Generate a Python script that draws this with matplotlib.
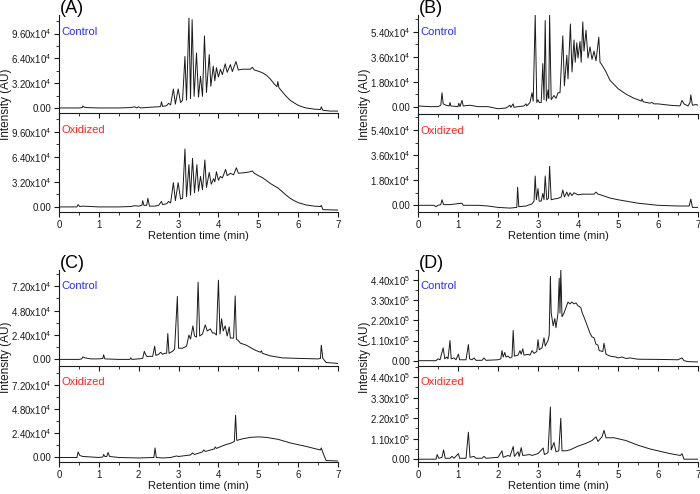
import numpy as np
import matplotlib.pyplot as plt
from matplotlib.ticker import FixedLocator, FuncFormatter, MultipleLocator

# retention time (min), intensity in units of 1e4 (A-C) or 1e5 (D)
a_control = [
    (0, 0.0), (0.5, 0.0), (0.58, 0.05), (0.6, 0.25), (0.63, 0.1), (0.7, 0.05), (1.0, 0.0),
    (1.5, 0.0), (1.8, 0.05), (1.9, 0.15), (1.95, 0.0), (2.0, 0.15), (2.05, 0.0), (2.3, 0.1),
    (2.5, 0.15), (2.55, 0.2), (2.57, 0.8), (2.6, 0.2), (2.7, 0.3), (2.75, 0.6), (2.8, 0.4),
    (2.87, 2.45), (2.92, 0.5), (2.99, 2.45), (3.05, 0.7), (3.1, 1.0), (3.16, 6.65), (3.2, 1.0),
    (3.26, 11.6), (3.3, 1.2), (3.34, 11.4), (3.39, 1.5), (3.45, 7.1), (3.5, 1.4), (3.55, 4.1),
    (3.6, 1.5), (3.65, 9.3), (3.7, 2.0), (3.77, 6.9), (3.81, 2.8), (3.87, 5.4), (3.91, 3.5),
    (3.95, 5.2), (4.0, 4.0), (4.05, 5.0), (4.1, 4.3), (4.17, 5.7), (4.22, 4.6), (4.3, 5.6),
    (4.35, 4.7), (4.44, 6.0), (4.5, 4.9), (4.6, 5.0), (4.7, 5.0), (4.8, 5.0), (4.85, 5.25),
    (4.9, 4.9), (5.0, 4.75), (5.1, 4.55), (5.2, 4.25), (5.3, 3.75), (5.4, 3.1), (5.47, 2.75),
    (5.49, 3.4), (5.52, 2.6), (5.6, 2.1), (5.7, 1.5), (5.8, 1.0), (5.9, 0.65), (6.0, 0.35),
    (6.1, 0.15), (6.2, 0.0), (6.4, -0.15), (6.56, -0.2), (6.58, 0.15), (6.62, -0.3),
    (6.8, -0.4), (7.0, -0.4),
]
a_oxidized = [
    (0, 0.0), (0.45, 0.0), (0.48, 0.3), (0.52, 0.05), (0.6, 0.1), (1.0, 0.0), (1.5, 0.0),
    (1.8, 0.05), (1.9, 0.15), (2.0, 0.1), (2.08, 0.2), (2.1, 0.8), (2.13, 0.2), (2.2, 0.2),
    (2.23, 1.1), (2.27, 0.1), (2.4, 0.1), (2.5, 0.2), (2.57, 0.7), (2.6, 0.3), (2.7, 0.4),
    (2.75, 0.7), (2.8, 0.5), (2.87, 3.1), (2.92, 0.8), (2.99, 3.1), (3.05, 1.0), (3.1, 1.1),
    (3.16, 7.4), (3.2, 1.3), (3.26, 5.4), (3.3, 1.5), (3.35, 6.2), (3.4, 1.8), (3.46, 5.4),
    (3.5, 2.0), (3.55, 3.9), (3.6, 2.2), (3.66, 6.0), (3.7, 2.5), (3.77, 4.4), (3.82, 2.9),
    (3.88, 3.6), (3.91, 3.2), (3.95, 4.5), (4.0, 3.4), (4.05, 3.9), (4.1, 3.7), (4.18, 4.8),
    (4.22, 4.0), (4.3, 4.3), (4.38, 4.1), (4.45, 5.0), (4.5, 4.3), (4.6, 4.35), (4.7, 4.4),
    (4.8, 4.5), (4.85, 4.6), (4.9, 4.3), (5.0, 4.0), (5.1, 3.75), (5.2, 3.4), (5.3, 3.0),
    (5.4, 2.7), (5.5, 2.4), (5.6, 1.95), (5.7, 1.5), (5.8, 1.1), (5.9, 0.8), (6.0, 0.55),
    (6.2, 0.25), (6.4, 0.1), (6.56, 0.05), (6.58, 0.2), (6.62, -0.35), (7.0, -0.4),
]
b_control = [
    (0, 0.05), (0.3, 0.0), (0.5, 0.0), (0.57, 0.1), (0.6, 1.0), (0.63, 0.2), (0.7, 0.1),
    (0.78, 0.05), (0.8, 0.3), (0.82, 0.05), (1.0, 0.0), (1.02, 0.25), (1.05, 0.0), (1.1, 0.45),
    (1.13, 0.05), (1.3, 0.1), (1.5, 0.0), (1.75, 0.0), (2.0, -0.15), (2.2, -0.1), (2.3, 0.1),
    (2.32, -0.05), (2.38, 0.2), (2.4, -0.05), (2.5, 0.0), (2.65, 0.05), (2.7, 0.2), (2.72, 0.05),
    (2.8, 0.3), (2.85, 1.0), (2.88, 0.4), (2.93, 6.6), (2.97, 0.3), (3.0, 0.5), (3.03, 0.3),
    (3.08, 0.3), (3.12, 3.1), (3.15, 0.5), (3.18, 6.2), (3.21, 0.4), (3.25, 1.2), (3.27, 0.6),
    (3.29, 6.6), (3.33, 0.5), (3.4, 0.8), (3.45, 0.6), (3.5, 1.0), (3.55, 1.0), (3.62, 5.1),
    (3.66, 1.5), (3.72, 3.7), (3.75, 2.0), (3.81, 5.95), (3.85, 2.5), (3.9, 4.8), (3.93, 3.2),
    (3.97, 4.6), (4.0, 3.5), (4.05, 4.7), (4.08, 3.2), (4.12, 6.1), (4.15, 4.0), (4.2, 5.5),
    (4.25, 3.5), (4.3, 4.3), (4.35, 3.4), (4.4, 4.0), (4.45, 3.3), (4.52, 5.0), (4.55, 3.2),
    (4.6, 3.0), (4.7, 2.5), (4.8, 1.9), (4.9, 1.6), (5.0, 1.3), (5.2, 0.9), (5.4, 0.6),
    (5.5, 0.5), (5.58, 0.4), (5.6, 0.55), (5.63, 0.35), (5.8, 0.25), (5.85, 0.3), (5.9, 0.2),
    (6.0, 0.2), (6.3, 0.1), (6.55, 0.05), (6.6, 0.45), (6.65, 0.2), (6.75, 0.05), (6.8, 0.3),
    (6.82, 0.85), (6.86, 0.1), (6.95, 0.15), (7.0, 0.1),
]
b_oxidized = [
    (0, 0.0), (0.4, 0.0), (0.45, -0.1), (0.5, 0.0), (0.57, 0.05), (0.6, 0.4), (0.64, 0.05),
    (0.8, 0.05), (1.1, 0.15), (1.13, 0.0), (1.5, 0.0), (1.75, -0.05), (2.0, -0.15),
    (2.3, -0.2), (2.47, -0.15), (2.49, 1.3), (2.52, -0.1), (2.7, -0.05), (2.85, 0.1),
    (2.9, 0.3), (2.93, 2.1), (2.96, 0.4), (3.0, 1.2), (3.03, 0.3), (3.08, 0.3), (3.12, 0.85),
    (3.15, 0.4), (3.18, 2.1), (3.22, 0.4), (3.26, 0.5), (3.29, 2.8), (3.33, 0.4), (3.4, 0.45),
    (3.5, 0.5), (3.58, 0.6), (3.62, 1.1), (3.66, 0.6), (3.72, 0.95), (3.76, 0.65), (3.8, 0.9),
    (3.85, 0.7), (3.9, 0.9), (4.0, 0.75), (4.1, 0.8), (4.2, 0.8), (4.3, 0.8), (4.4, 0.8),
    (4.45, 0.95), (4.5, 0.8), (4.6, 0.72), (4.7, 0.62), (4.8, 0.52), (5.0, 0.4), (5.2, 0.3),
    (5.5, 0.15), (6.0, 0.0), (6.5, -0.05), (6.78, -0.05), (6.82, 0.45), (6.86, -0.15),
    (7.0, -0.15),
]
c_control = [
    (0, 0.0), (0.5, 0.0), (0.57, 0.05), (0.6, 0.25), (0.65, 0.15), (0.8, 0.05), (1.0, 0.05),
    (1.1, 0.1), (1.12, 0.45), (1.15, 0.05), (1.5, 0.0), (1.78, 0.0), (1.8, 0.15), (1.83, 0.0),
    (2.0, 0.05), (2.1, 0.1), (2.14, 0.8), (2.17, 0.5), (2.2, 0.3), (2.3, 0.3), (2.35, 0.3),
    (2.4, 1.3), (2.43, 0.4), (2.5, 0.5), (2.55, 0.7), (2.6, 0.5), (2.65, 0.6), (2.7, 0.6),
    (2.73, 2.55), (2.76, 0.6), (2.85, 0.8), (2.9, 1.0), (2.97, 6.2), (3.0, 1.1), (3.1, 1.1),
    (3.2, 1.3), (3.26, 2.4), (3.3, 2.0), (3.36, 3.3), (3.4, 2.3), (3.45, 2.2), (3.49, 7.6),
    (3.53, 2.3), (3.6, 2.5), (3.67, 3.4), (3.72, 2.8), (3.8, 3.0), (3.85, 2.6), (3.9, 2.6),
    (3.95, 2.4), (4.0, 7.8), (4.04, 2.5), (4.08, 4.0), (4.12, 2.8), (4.17, 3.3), (4.22, 2.3),
    (4.27, 3.2), (4.3, 2.1), (4.38, 2.1), (4.42, 6.25), (4.45, 2.0), (4.5, 1.85), (4.55, 1.6),
    (4.7, 1.4), (4.9, 0.95), (5.05, 0.7), (5.08, 0.85), (5.1, 0.6), (5.3, 0.35), (5.6, 0.15),
    (6.0, 0.1), (6.5, 0.05), (6.56, 0.1), (6.58, 1.4), (6.62, 0.1), (6.7, -0.3), (7.0, -0.4),
]
c_oxidized = [
    (0, 0.0), (0.45, 0.0), (0.48, 0.55), (0.52, 0.2), (0.6, 0.1), (1.0, 0.0), (1.1, 0.05),
    (1.12, 0.3), (1.15, 0.1), (1.2, 0.1), (1.23, 0.5), (1.27, 0.1), (1.5, 0.0), (2.0, -0.05),
    (2.38, 0.0), (2.41, 0.95), (2.44, 0.0), (2.6, -0.05), (2.8, 0.0), (2.9, 0.1), (2.95, 0.15),
    (3.0, 0.1), (3.3, 0.25), (3.35, 0.45), (3.4, 0.3), (3.6, 0.55), (3.63, 0.75), (3.67, 0.6),
    (3.9, 0.85), (3.92, 1.05), (3.95, 0.9), (4.1, 1.15), (4.2, 1.3), (4.3, 1.4), (4.4, 1.6),
    (4.43, 4.2), (4.46, 1.7), (4.6, 1.85), (4.8, 2.0), (5.0, 2.05), (5.2, 2.0), (5.5, 1.8),
    (5.8, 1.45), (6.2, 1.1), (6.5, 0.8), (6.56, 0.75), (6.58, 0.95), (6.63, 0.4), (6.7, -0.3),
    (7.0, -0.35),
]
d_control = [
    (0, 0.0), (0.45, 0.0), (0.5, 0.1), (0.55, 0.05), (0.63, 0.7), (0.67, 0.1), (0.72, 0.2),
    (0.75, 0.1), (0.8, 1.1), (0.83, 0.1), (0.9, 0.15), (0.95, 0.05), (1.01, 0.36), (1.04, 0.05),
    (1.1, 0.05), (1.2, 0.05), (1.26, 0.88), (1.29, 0.1), (1.35, 0.05), (1.4, 0.15), (1.45, 0.02),
    (1.6, 0.02), (1.65, 0.15), (1.7, 0.02), (2.0, 0.05), (2.07, 0.1), (2.1, 0.55), (2.13, 0.2),
    (2.17, 0.45), (2.2, 0.2), (2.25, 0.25), (2.3, 0.15), (2.35, 0.2), (2.38, 1.65), (2.41, 0.25),
    (2.5, 0.3), (2.55, 0.55), (2.58, 0.35), (2.62, 0.65), (2.65, 0.3), (2.75, 0.35), (2.8, 0.3),
    (2.85, 0.55), (2.9, 0.4), (2.97, 0.5), (3.0, 1.15), (3.03, 0.6), (3.1, 0.7), (3.15, 1.25),
    (3.18, 0.8), (3.25, 1.1), (3.28, 1.4), (3.31, 4.6), (3.33, 2.6), (3.38, 1.9), (3.42, 2.3),
    (3.45, 1.8), (3.5, 2.6), (3.53, 4.5), (3.55, 2.6), (3.57, 5.0), (3.6, 2.4), (3.65, 2.6),
    (3.7, 2.9), (3.75, 3.2), (3.8, 3.1), (3.85, 3.2), (3.9, 3.1), (3.95, 3.15), (4.0, 3.0),
    (4.07, 2.9), (4.1, 2.65), (4.2, 2.1), (4.3, 1.5), (4.35, 1.3), (4.4, 1.25), (4.45, 0.9),
    (4.5, 0.85), (4.53, 0.55), (4.62, 0.5), (4.65, 0.95), (4.7, 0.35), (4.8, 0.25),
    (4.95, 0.2), (5.0, 0.15), (5.1, 0.2), (5.2, 0.12), (5.3, 0.15), (5.5, 0.08), (6.0, 0.07),
    (6.5, 0.05), (6.6, 0.15), (6.65, 0.0), (6.75, -0.05), (7.0, -0.07),
]
d_oxidized = [
    (0, 0.0), (0.45, 0.0), (0.48, 0.25), (0.52, 0.05), (0.6, 0.1), (0.64, 0.5), (0.68, 0.05),
    (0.8, 0.05), (0.85, 0.15), (0.9, 0.05), (1.01, 0.3), (1.04, 0.05), (1.2, 0.05), (1.26, 1.45),
    (1.3, 0.1), (1.4, 0.15), (1.45, 0.05), (1.6, 0.05), (1.65, 0.15), (1.7, 0.05), (2.0, 0.1),
    (2.1, 0.45), (2.13, 0.1), (2.25, 0.2), (2.3, 0.15), (2.38, 0.68), (2.41, 0.15), (2.5, 0.4),
    (2.53, 0.15), (2.58, 0.62), (2.62, 0.2), (2.8, 0.25), (2.85, 0.2), (3.0, 0.3), (3.13, 0.6),
    (3.16, 0.25), (3.25, 0.35), (3.31, 2.8), (3.33, 0.5), (3.4, 0.9), (3.45, 0.4), (3.52, 0.45),
    (3.57, 2.2), (3.6, 0.45), (3.7, 0.45), (3.8, 0.5), (4.0, 0.7), (4.2, 0.85), (4.35, 1.0),
    (4.45, 1.2), (4.5, 0.95), (4.6, 1.2), (4.65, 1.55), (4.7, 1.15), (4.9, 1.15), (5.0, 1.1),
    (5.2, 1.0), (5.5, 0.75), (5.8, 0.55), (6.0, 0.45), (6.3, 0.3), (6.56, 0.2), (6.6, 0.3),
    (6.65, 0.0), (7.0, 0.0),
]

a_yticks = [0, 3.2, 6.4, 9.6]
b_yticks = [0, 1.8, 3.6, 5.4]
c_yticks = [0, 2.4, 4.8, 7.2]
d_yticks = [0, 1.1, 2.2, 3.3, 4.4]

plt.rcParams.update({
    "font.family": "Liberation Sans",
    "mathtext.fontset": "custom",
    "mathtext.rm": "Liberation Sans",
    "mathtext.it": "Liberation Sans:italic",
    "mathtext.bf": "Liberation Sans:bold",
    "font.size": 7,
    "axes.linewidth": 0.8,
})

W, H = 700, 494
INK = "#1a1a1a"


def px_axes(fig, left, top, right, bottom):
    return fig.add_axes([left / W, 1 - bottom / H, (right - left) / W, (bottom - top) / H])


def sci_formatter(unit, exp):
    def fmt(v, _):
        if abs(v) < 1e-9:
            return "0.00"
        return f"{v / unit:.2f}x10$^{exp}$"
    return FuncFormatter(fmt)


def draw_panel(fig, letter, left, right, top, mid, bottom,
               control, oxidized, unit, exp, yticks, ylim_c, ylim_o):
    ax_c = px_axes(fig, left, top, right, mid)
    ax_o = px_axes(fig, left, mid, right, bottom)

    for ax, trace, ylim, label, color in [
        (ax_c, control, ylim_c, "Control", "#2b2bff"),
        (ax_o, oxidized, ylim_o, "Oxidized", "#ff2525"),
    ]:
        t = np.array([p[0] for p in trace])
        y = np.array([p[1] for p in trace]) * unit
        ax.plot(t, y, color=INK, linewidth=0.7)
        ax.set_xlim(0, 7)
        ax.set_ylim(ylim[0] * unit, ylim[1] * unit)
        ax.patch.set_alpha(0)

        ax.spines["top"].set_visible(False)
        ax.spines["right"].set_visible(False)
        for s in ("left", "bottom"):
            ax.spines[s].set_color(INK)

        ax.yaxis.set_major_locator(FixedLocator([v * unit for v in yticks]))
        ax.yaxis.set_minor_locator(MultipleLocator((yticks[1] - yticks[0]) * unit / 2))
        ax.yaxis.set_major_formatter(sci_formatter(unit, exp))
        ax.xaxis.set_major_locator(MultipleLocator(1))
        ax.xaxis.set_minor_locator(MultipleLocator(0.5))

        ax.tick_params(which="major", direction="out", length=3.5, width=0.8,
                       colors=INK, labelsize=7, pad=2)
        ax.tick_params(which="minor", direction="out", length=2, width=0.6, colors=INK)

        ax.text(0.008, 0.83, label, transform=ax.transAxes, color=color,
                fontsize=8, ha="left", va="center")

    ax_c.tick_params(axis="x", labelbottom=False)
    ax_o.set_xlabel("Retention time (min)", fontsize=8, color=INK, labelpad=1)

    fig.text((left + 1) / W, 1 - (top - 15) / H, f"({letter})", fontsize=13,
             color="black", ha="left", va="top")
    fig.text((left - 53) / W, 1 - (top + bottom) / 2 / H + 9 / H, "Intensity (AU)",
             rotation=90, fontsize=8.5, color=INK, ha="center", va="center")


fig = plt.figure(figsize=(7.0, 4.94), dpi=100)

draw_panel(fig, "A", 59, 338, 15, 113, 212, a_control, a_oxidized,
           1e4, 4, a_yticks, (-0.65, 12.0), (-0.65, 12.0))
draw_panel(fig, "B", 418, 698, 15, 114, 212, b_control, b_oxidized,
           1e4, 4, b_yticks, (-0.53, 6.6), (-0.48, 6.55))
draw_panel(fig, "C", 59, 338, 270, 366, 462, c_control, c_oxidized,
           1e4, 4, c_yticks, (-0.65, 8.8), (-0.45, 9.1))
draw_panel(fig, "D", 418, 698, 270, 366, 462, d_control, d_oxidized,
           1e5, 5, d_yticks, (-0.29, 4.95), (-0.15, 5.0))

fig.savefig("out.png", dpi=100)
